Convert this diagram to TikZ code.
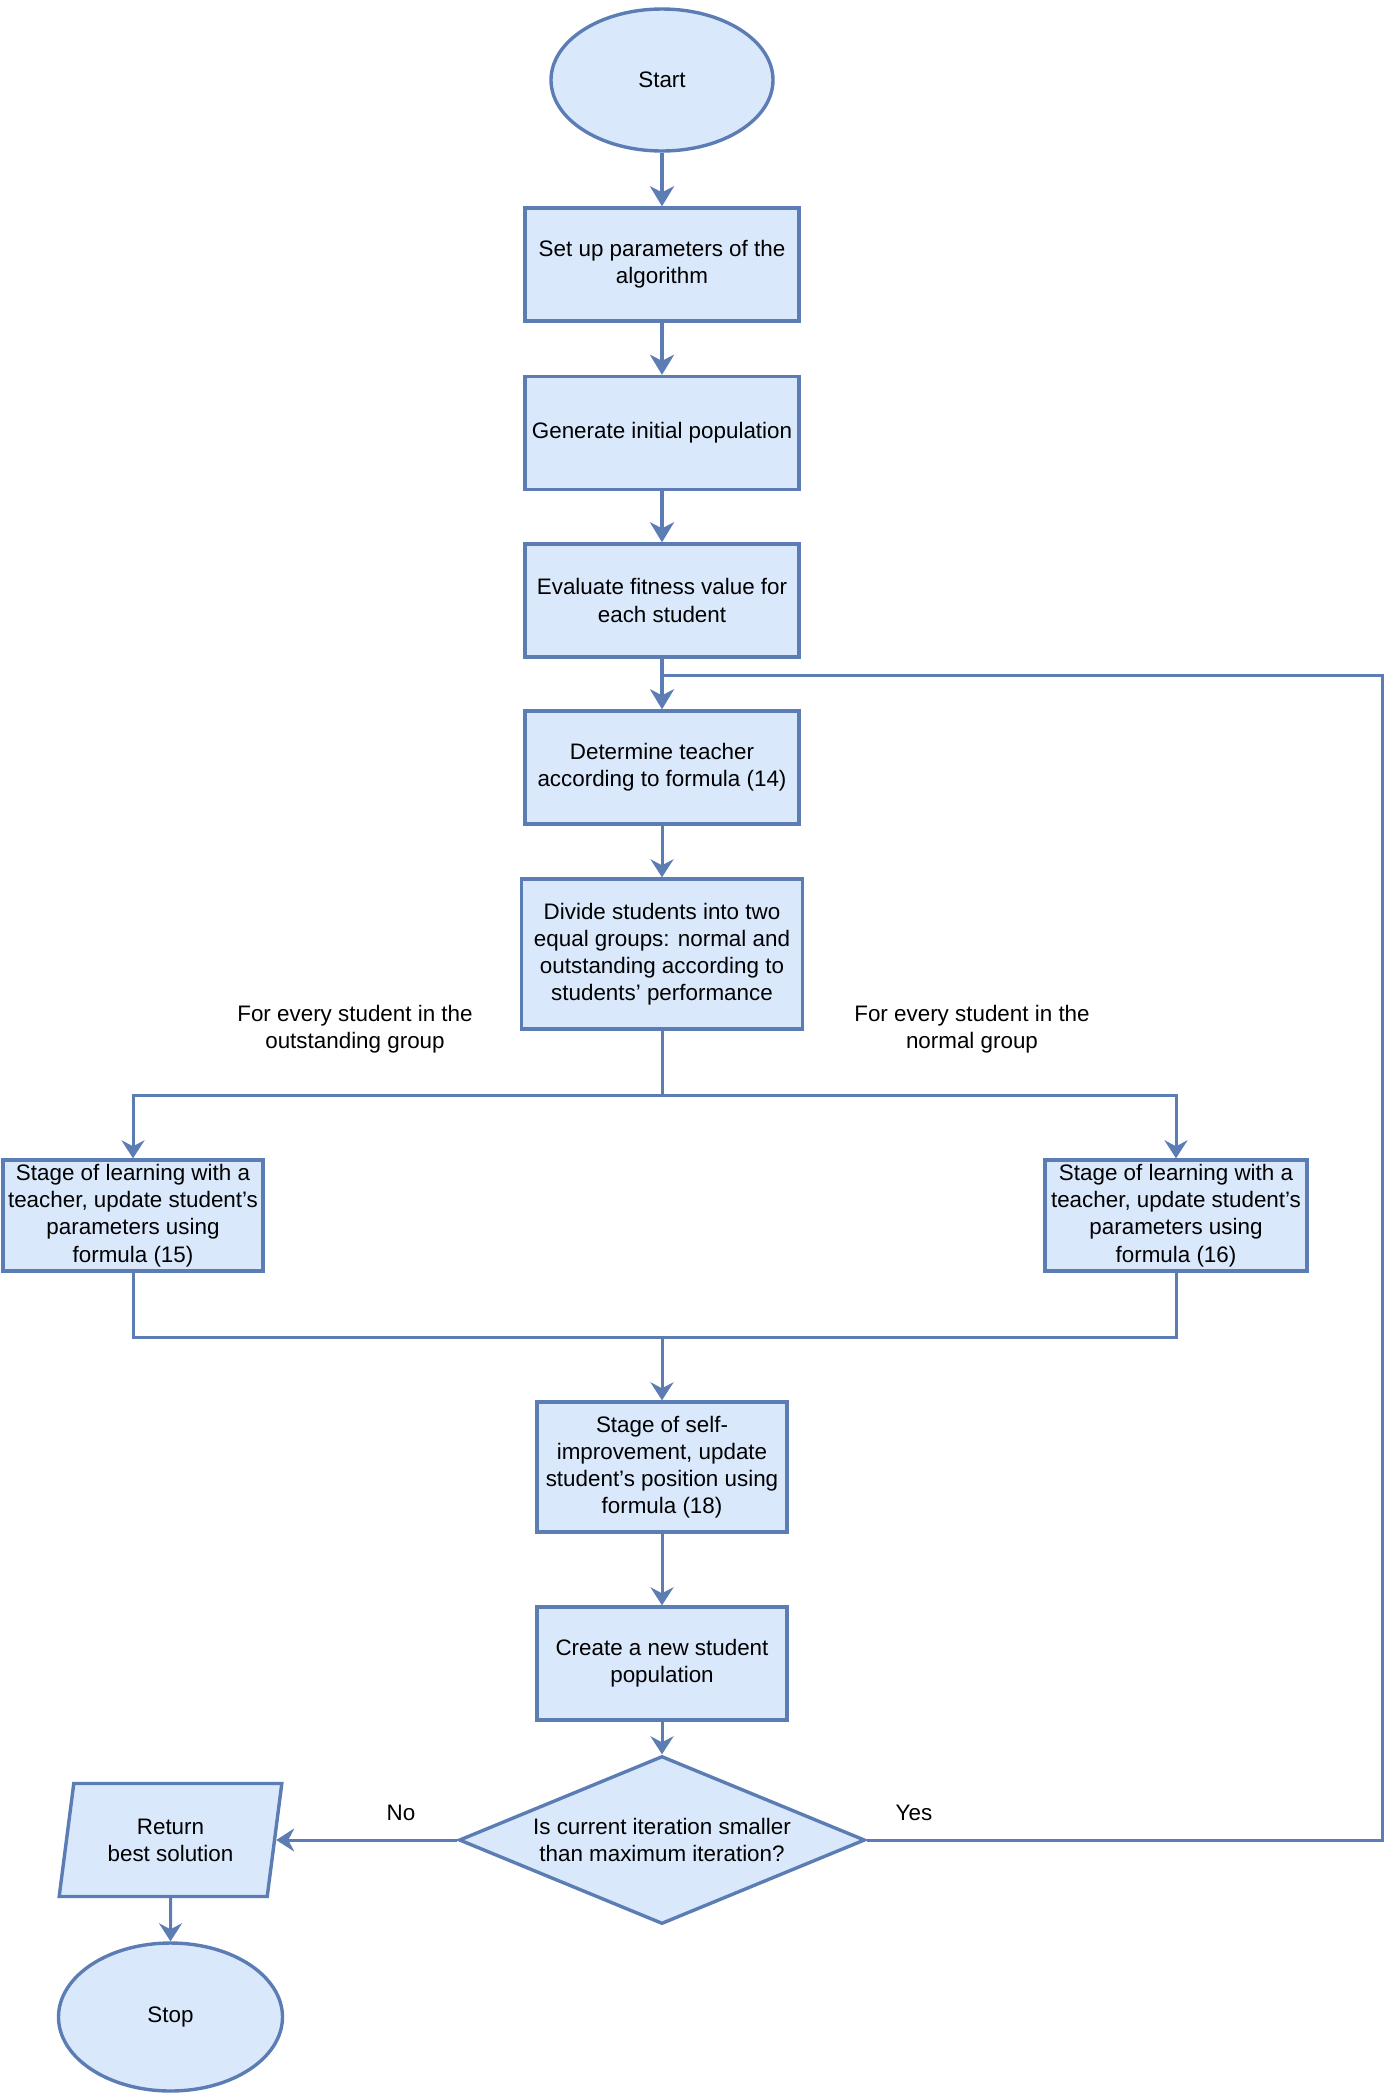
\documentclass[tikz,border=0pt]{standalone}
\usepackage{fontspec}
\setmainfont{Liberation Sans}
\usetikzlibrary{shapes.geometric, arrows.meta}
\definecolor{lineblue}{HTML}{5B7DB3}
\definecolor{fillblue}{HTML}{DAE8FC}
\begin{document}
\begin{tikzpicture}[x=0.5pt, y=-0.5pt,
  font=\fontsize{11.2}{13.6}\selectfont,
  box/.style={draw=lineblue, fill=fillblue, line width=1.7pt, align=center, inner sep=1pt, minimum width=137pt, minimum height=56.5pt},
  term/.style={ellipse, draw=lineblue, fill=fillblue, line width=1.7pt, inner sep=0pt},
  conn/.style={draw=lineblue, line width=1.5pt},
  arr/.style={conn, -{Stealth[length=9pt, width=11.5pt, inset=3pt]}},
  thickarr/.style={draw=lineblue, line width=2pt, -{Stealth[length=10pt, width=12pt, inset=3pt]}},
  lab/.style={align=center}]
\useasboundingbox (0,0) rectangle (1390,2095);

\node[term, minimum width=111pt, minimum height=71pt] (start) at (662,80) {Start};
\node[box] (setup) at (662,264.5) {Set up parameters of the\\algorithm};
\node[box] (gen) at (662,433) {Generate initial population};
\node[box] (eval) at (662,600.5) {Evaluate fitness value for\\each student};
\node[box] (teach) at (662,767.5) {Determine teacher\\according to formula (14)};
\node[box, minimum width=140.5pt, minimum height=75pt] (divide) at (662,954) {Divide students into two\\equal groups: normal and\\outstanding according to\\students' performance};
\node[box, minimum width=130pt, minimum height=55.5pt] (left) at (133,1215.5) {Stage of learning with a\\teacher, update student's\\parameters using\\formula (15)};
\node[box, minimum width=131pt, minimum height=55.5pt] (right) at (1176,1215.5) {Stage of learning with a\\teacher, update student's\\parameters using\\formula (16)};
\node[box, minimum width=125pt, minimum height=65pt] (self) at (662,1467) {Stage of self-\\improvement, update\\student's position using\\formula (18)};
\node[box, minimum width=125pt, minimum height=56.5pt] (create) at (662,1663.5) {Create a new student\\population};
\node[diamond, draw=lineblue, fill=fillblue, line width=1.7pt, inner sep=0pt, minimum width=203pt, minimum height=84pt,
  label={[align=center]center:Is current iteration smaller\\than maximum iteration?}] (dec) at (662,1840) {};
\node[trapezium, trapezium left angle=77.5, trapezium right angle=102.5, trapezium stretches=true,
  draw=lineblue, fill=fillblue, line width=1.7pt, inner sep=0pt, align=center,
  minimum width=111.5pt, minimum height=56.5pt] (ret) at (170.5,1840) {Return\\best solution};
\node[term, minimum width=112pt, minimum height=74pt] (stop) at (170.5,2017) {Stop};

\node[lab] (lg) at (355,1029) {For every student in the\\outstanding group};
\node[lab] (rg) at (972,1029) {For every student in the\\normal group};
\node (no) at (401,1813) {No};
\node (yes) at (914,1813) {Yes};

\draw[thickarr] (start) -- (setup);
\draw[thickarr] (setup) -- (gen);
\draw[thickarr] (gen) -- (eval);
\draw[thickarr] (eval) -- (teach);
\draw[arr] (teach) -- (divide);

\coordinate (split) at (662,1095);
\coordinate (merge) at (662,1337);
\draw[conn] (divide.south) -- (split);
\draw[arr] (split) -| (left.north);
\draw[arr] (split) -| (right.north);
\draw[conn] (left.south) |- (merge);
\draw[conn] (right.south) |- (merge);
\draw[arr] (merge) -- (self.north);
\draw[arr] (self) -- (create);
\draw[arr] (create) -- (dec);
\draw[arr] (dec.west) -- (dec.west -| ret.east);
\draw[arr] (ret) -- (stop);

\coordinate (loopR) at (1382,1840);
\coordinate (loopT) at (1382,675);
\draw[conn] (dec.east) -- (loopR) -- (loopT) -- (eval.south |- loopT);
\end{tikzpicture}
\end{document}
